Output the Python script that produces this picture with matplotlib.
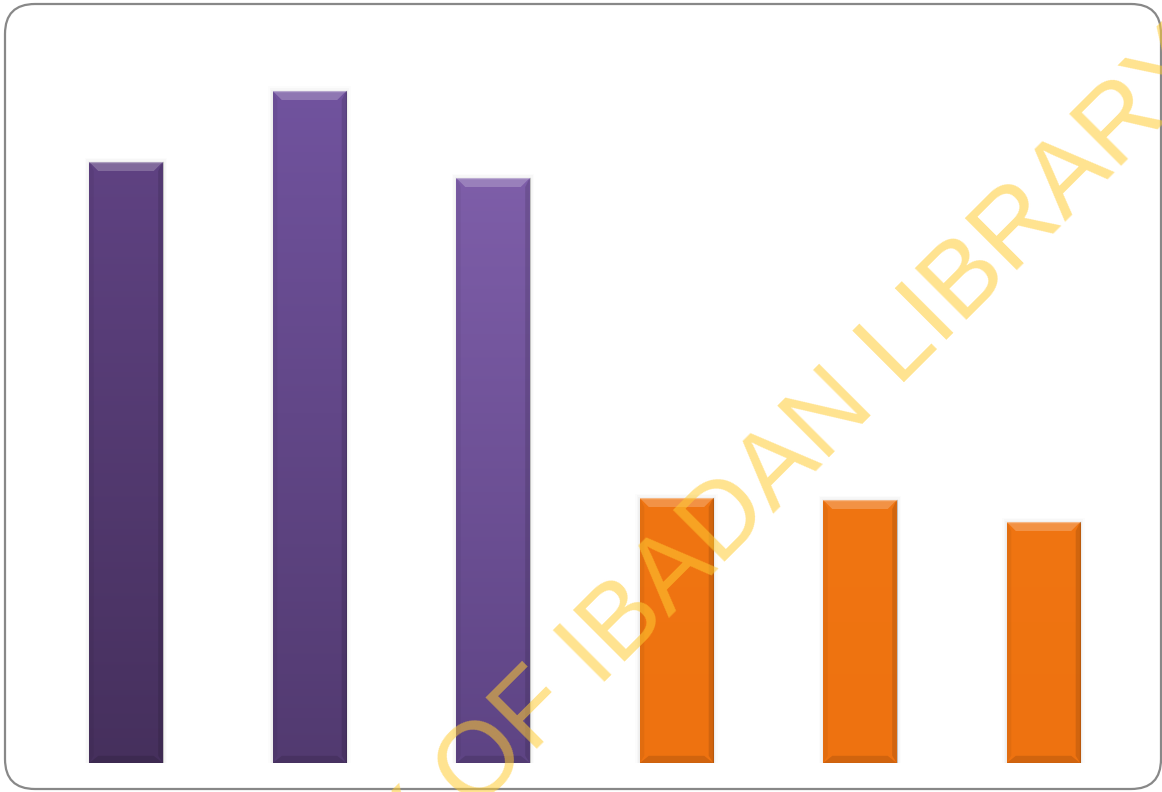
import matplotlib

matplotlib.use("Agg")

import matplotlib.pyplot as plt
import numpy as np
from matplotlib.colors import LinearSegmentedColormap
from matplotlib.patches import FancyBboxPatch, Polygon, Rectangle

# bar values (no axis is shown, units are arbitrary)
categories = ["1", "2", "3", "4", "5", "6"]
values = [60.1, 67.2, 58.5, 26.5, 26.3, 24.1]

watermark_left = "UNIVERSITY "
watermark_right = "OF IBADAN LIBRARY"

# gradient colours (bottom, top) for each bar
bar_colors = [
    ("#46305d", "#634588"),
    ("#523a70", "#7254a0"),
    ("#5e4484", "#8463b0"),
    ("#ee7210", "#f37a15"),
    ("#ee7210", "#f37a15"),
    ("#ee7210", "#f37a15"),
]

W, H, DPI = 1162, 792, 100
YMAX = 70.0
BAR_W = 0.4

fig = plt.figure(figsize=(W / DPI, H / DPI), dpi=DPI)
fig.patch.set_facecolor("white")

ax_left, ax_bottom = 34.25 / W, 29 / H
ax_w, ax_h = 1101 / W, 700 / H
ax = fig.add_axes([ax_left, ax_bottom, ax_w, ax_h])
ax.set_xlim(-0.5, len(values) - 0.5)
ax.set_ylim(0, YMAX)
ax.axis("off")

# pixel -> data conversion for the bevel size
px_x = len(values) / (ax_w * W)
px_y = YMAX / (ax_h * H)
bev = 9
dx, dy = bev * px_x, bev * px_y

x = np.arange(len(values))
grad = np.linspace(0, 1, 256).reshape(-1, 1)

for xi, h, (c0, c1) in zip(x, values, bar_colors):
    x0, x1 = xi - BAR_W / 2, xi + BAR_W / 2

    # faint shadow
    for k, a in enumerate([0.025, 0.018, 0.012]):
        s = (k + 1) * 1.5
        ax.add_patch(Rectangle((x0 - s * px_x, -s * px_y), (x1 - x0) + 2 * s * px_x,
                               h + 2 * s * px_y, facecolor="#000000", alpha=a,
                               edgecolor="none", zorder=1))

    rect = Rectangle((x0, 0), x1 - x0, h, facecolor="none", edgecolor="none")
    ax.add_patch(rect)
    cmap = LinearSegmentedColormap.from_list("g", [c0, c1])
    im = ax.imshow(grad, cmap=cmap, origin="lower", aspect="auto",
                   extent=[x0, x1, 0, YMAX], zorder=2, interpolation="bilinear")
    im.set_clip_path(rect)

    # bevels
    top = Polygon([(x0, h), (x1, h), (x1 - dx, h - dy), (x0 + dx, h - dy)],
                  closed=True, facecolor="white", alpha=0.22, edgecolor="none", zorder=3)
    bottom = Polygon([(x0, 0), (x1, 0), (x1 - dx, dy * 0.8), (x0 + dx, dy * 0.8)],
                     closed=True, facecolor="black", alpha=0.12, edgecolor="none", zorder=3)
    right = Polygon([(x1, 0), (x1, h), (x1 - dx * 0.5, h - dy), (x1 - dx * 0.5, dy * 0.8)],
                    closed=True, facecolor="black", alpha=0.12, edgecolor="none", zorder=3)
    left = Polygon([(x0, 0), (x0, h), (x0 + dx * 0.5, h - dy), (x0 + dx * 0.5, dy * 0.8)],
                   closed=True, facecolor="black", alpha=0.05, edgecolor="none", zorder=3)
    for p in (top, bottom, right, left):
        ax.add_patch(p)
    ax.plot([x0, x1], [h, h], color="white", alpha=0.35, lw=1.0, zorder=4)
    ax.plot([x0, x1, x1], [0, 0, h], color="black", alpha=0.2, lw=0.8, zorder=4)

# rounded frame
frame = FancyBboxPatch((0.05, 0.03), 11.56, 7.85, boxstyle="round,pad=0,rounding_size=0.3",
                       transform=fig.dpi_scale_trans, facecolor="none",
                       edgecolor="#888888", lw=1.6, zorder=10)
fig.patches.append(frame)

# watermark, anchored at the baseline start of "OF"
anchor = (472.8 / W, 1 - 813 / H)
wm_style = dict(rotation=45, rotation_mode="anchor", va="baseline", fontsize=76.3,
                family="Liberation Sans", color="#ffcc33", alpha=0.55, zorder=20)
fig.text(*anchor, watermark_left, ha="right", **wm_style)
fig.text(*anchor, watermark_right, ha="left", **wm_style)

fig.savefig("out.png", dpi=DPI)
